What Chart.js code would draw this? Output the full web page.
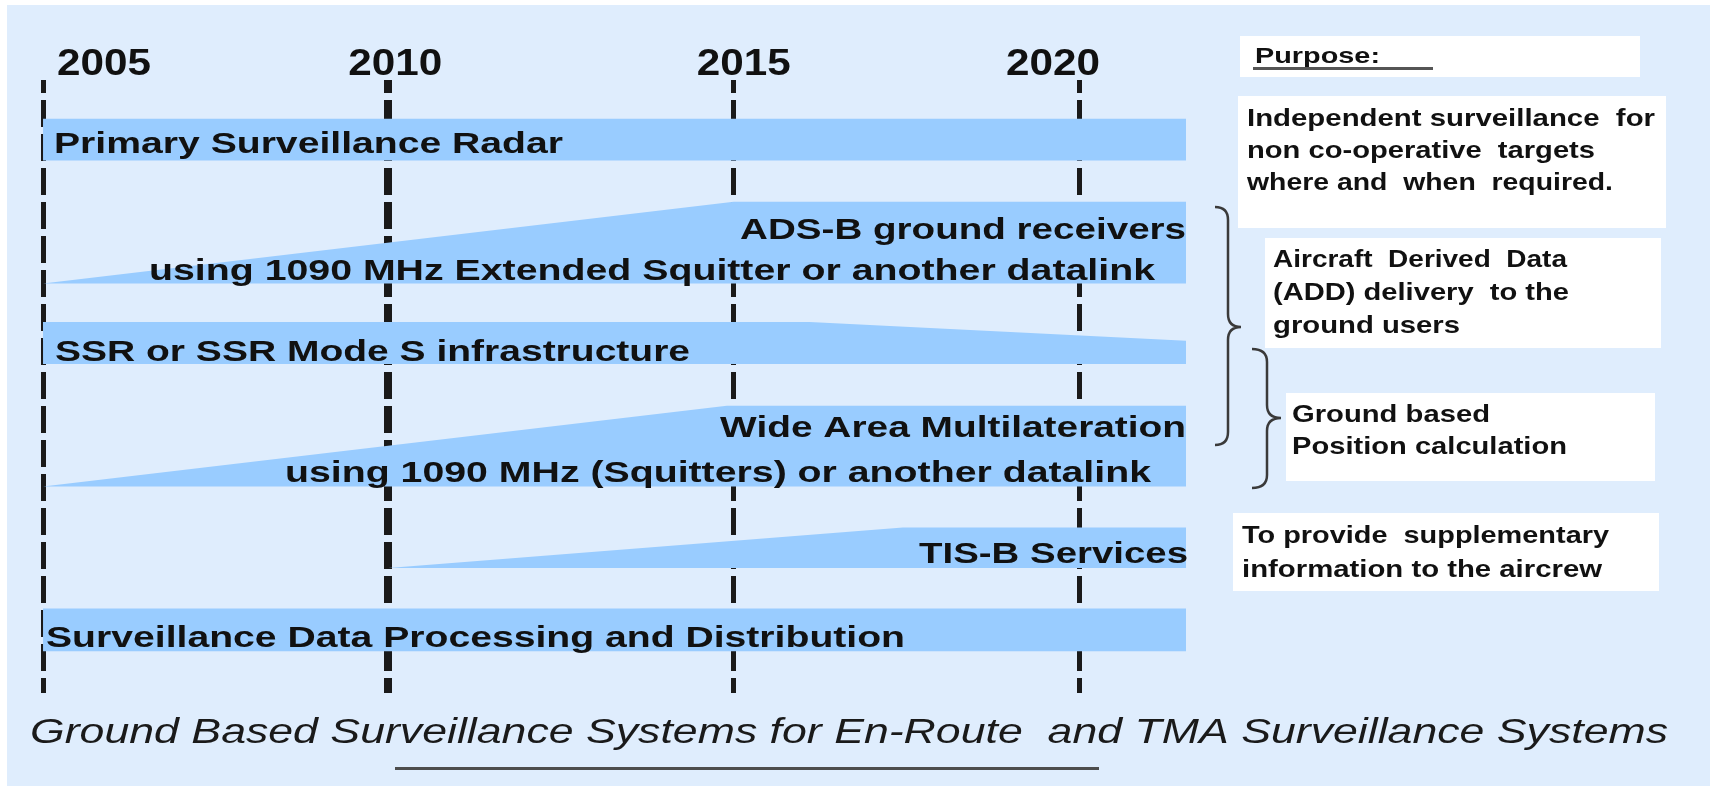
<!DOCTYPE html>
<html lang="en">
<head>
  <meta charset="UTF-8">
  <title>Ground Based Surveillance Systems</title>
  <script src="https://cdn.jsdelivr.net/npm/chart.js@4.4.1/dist/chart.umd.min.js"></script>
  <style>
    html, body { margin: 0; padding: 0; background: #fff; }
    canvas { display: block; }
  </style>
</head>
<body>
  <canvas id="timeline" width="1710" height="787"></canvas>

  <script>
    // timeline data (years)
    const yearTicks = [2005, 2010, 2015, 2020];
    const systems = [
      'Primary Surveillance Radar',
      'ADS-B ground receivers',
      'SSR or SSR Mode S infrastructure',
      'Wide Area Multilateration',
      'TIS-B Services',
      'Surveillance Data Processing and Distribution'
    ];
    const subLabels = [
      null,
      'using 1090 MHz Extended Squitter or another datalink',
      null,
      'using 1090 MHz (Squitters) or another datalink',
      null,
      null
    ];
    const startYear   = [2005, 2005, 2005, 2005, 2010, 2005];
    const fullYear    = [2005, 2015, 2005, 2014.9, 2017.45, 2005];
    const declineYear = [null, null, 2016.1, null, null, null];
    const endYear     = [2021.55, 2021.55, 2021.55, 2021.55, 2021.55, 2021.55];
    const startShare  = [1, 0, 1, 0, 0, 1];   // bar thickness at start (0 = wedge)
    const endShare    = [1, 1, 0.55, 1, 1, 1]; // bar thickness at end

    const purposeTitle = 'Purpose:';
    const purposes = [
      ['Independent surveillance  for', 'non co-operative  targets', 'where and  when  required.'],
      ['Aircraft  Derived  Data', '(ADD) delivery  to the', 'ground users'],
      ['Ground based', 'Position calculation'],
      ['To provide  supplementary', 'information to the aircrew']
    ];
    const caption = 'Ground Based Surveillance Systems for En-Route  and TMA Surveillance Systems';

    const barBlue = '#99CCFF';
    const bgBlue = '#DFEDFD';

    // vertical lanes of each row, in y-axis units (top, bottom)
    const lanes = [[0.95, 1.97], [2.98, 4.98], [5.92, 6.95], [7.97, 9.95], [10.95, 11.94], [12.93, 13.98]];

    const datasets = [];
    systems.forEach((name, i) => {
      const [top, bottom] = lanes[i];
      const h = bottom - top;
      const edge = [{ x: startYear[i], y: bottom - startShare[i] * h }];
      if (fullYear[i] !== startYear[i]) edge.push({ x: fullYear[i], y: top });
      if (declineYear[i]) edge.push({ x: declineYear[i], y: top });
      edge.push({ x: endYear[i], y: bottom - endShare[i] * h });
      datasets.push({
        label: name, data: edge, fill: '+1',
        backgroundColor: barBlue, borderColor: 'transparent', borderWidth: 0, pointRadius: 0, tension: 0
      });
      datasets.push({
        label: name + ' base',
        data: [{ x: startYear[i], y: bottom }, { x: endYear[i], y: bottom }],
        fill: false, borderColor: 'transparent', borderWidth: 0, pointRadius: 0
      });
    });

    const FONT = '"Liberation Sans", Arial, sans-serif';

    // draws text squeezed/stretched to a given width
    function fitText(ctx, str, x, y, w, font, align) {
      ctx.font = font;
      const nat = ctx.measureText(str).width;
      ctx.save();
      ctx.translate(align === 'right' ? x - w : x, y);
      ctx.scale(w / nat, 1);
      ctx.textAlign = 'left';
      ctx.textBaseline = 'alphabetic';
      ctx.fillText(str, 0, 0);
      ctx.restore();
    }

    function brace(ctx, xEnd, xSpine, xTip, yTop, yMid, yBot) {
      const r = 13;
      ctx.beginPath();
      ctx.moveTo(xEnd, yTop);
      ctx.quadraticCurveTo(xSpine, yTop, xSpine, yTop + r);
      ctx.lineTo(xSpine, yMid - r);
      ctx.quadraticCurveTo(xSpine, yMid, xTip, yMid);
      ctx.quadraticCurveTo(xSpine, yMid, xSpine, yMid + r);
      ctx.lineTo(xSpine, yBot - r);
      ctx.quadraticCurveTo(xSpine, yBot, xEnd, yBot);
      ctx.stroke();
    }

    const backdrop = {
      id: 'backdrop',
      beforeDraw(chart) {
        const ctx = chart.ctx;
        ctx.save();
        ctx.fillStyle = '#fff';
        ctx.fillRect(0, 0, chart.width, chart.height);
        ctx.fillStyle = bgBlue;
        ctx.fillRect(7, 5, chart.width - 7, chart.height - 6);
        ctx.restore();
      }
    };

    const annotations = {
      id: 'annotations',
      afterDraw(chart) {
        const ctx = chart.ctx;
        const xs = chart.scales.x;
        ctx.save();
        ctx.fillStyle = '#111';

        // year labels above the dashed lines
        const yearOffset = [14, -40, -37, -73];
        yearTicks.forEach((yr, i) => {
          fitText(ctx, String(yr), xs.getPixelForValue(yr) + yearOffset[i], 75, 94, 'bold 37px ' + FONT);
        });

        // labels inside the bars
        const b = 'bold 30px ' + FONT;
        fitText(ctx, systems[0], 54, 153, 509, b);
        fitText(ctx, systems[1], xs.getPixelForValue(endYear[1]), 239, 446, b, 'right');
        fitText(ctx, subLabels[1], 149, 280, 1006, b);
        fitText(ctx, systems[2], 55, 361, 635, b);
        fitText(ctx, systems[3], xs.getPixelForValue(endYear[3]), 437, 466, b, 'right');
        fitText(ctx, subLabels[3], 285, 482, 866, b);
        fitText(ctx, systems[4], xs.getPixelForValue(endYear[4]) + 2, 563, 269, b, 'right');
        fitText(ctx, systems[5], 46, 647, 859, 'bold 29px ' + FONT);

        // purpose boxes
        ctx.fillStyle = '#fff';
        ctx.fillRect(1240, 36, 400, 41);
        ctx.fillRect(1238, 96, 428, 132);
        ctx.fillRect(1265, 238, 396, 110);
        ctx.fillRect(1286, 393, 369, 88);
        ctx.fillRect(1233, 513, 426, 78);

        ctx.fillStyle = '#111';
        fitText(ctx, purposeTitle, 1255, 63, 125, 'bold 22px ' + FONT);
        ctx.fillStyle = '#555';
        ctx.fillRect(1253, 67, 180, 3);

        ctx.fillStyle = '#111';
        const p = 'bold 24px ' + FONT;
        const boxes = [
          { x: 1247, y: [126, 158, 190], w: [408, 348, 366] },
          { x: 1273, y: [267, 300, 333], w: [294, 296, 187] },
          { x: 1292, y: [422, 454], w: [198, 275] },
          { x: 1242, y: [543, 577], w: [367, 360] }
        ];
        boxes.forEach((bx, i) => {
          purposes[i].forEach((line, j) => fitText(ctx, line, bx.x, bx.y[j], bx.w[j], p));
        });

        // braces linking the ADS-B / WAM rows to the purposes
        ctx.strokeStyle = '#3a3a3a';
        ctx.lineWidth = 2.5;
        brace(ctx, 1215, 1228, 1241, 207, 327, 445);
        brace(ctx, 1252, 1267, 1281, 349, 418, 488);

        // caption
        ctx.fillStyle = '#1a1a1a';
        fitText(ctx, caption, 30, 743, 1638, 'italic 35px ' + FONT);
        ctx.fillStyle = '#4d4d4d';
        ctx.fillRect(395, 767, 704, 3);
        ctx.restore();
      }
    };

    new Chart(document.getElementById('timeline'), {
      type: 'line',
      data: { datasets },
      options: {
        responsive: false,
        animation: false,
        events: [],
        layout: { padding: { top: 80, bottom: 94, left: 0, right: 0 } },
        plugins: { legend: { display: false }, tooltip: { enabled: false } },
        scales: {
          x: {
            type: 'linear',
            min: 2004.377,
            max: 2029.136,
            position: 'bottom',
            afterBuildTicks: axis => { axis.ticks = yearTicks.map(v => ({ value: v })); },
            ticks: { display: false },
            grid: {
              color: '#1a1a1a',
              lineWidth: c => (c.tick && c.tick.value === 2010 ? 8 : 5),
              drawTicks: false
            },
            border: { display: false, dash: [27, 7], dashOffset: 14 }
          },
          y: { type: 'linear', reverse: true, min: 0, max: 15, display: false }
        }
      },
      plugins: [backdrop, annotations]
    });
  </script>
</body>
</html>
